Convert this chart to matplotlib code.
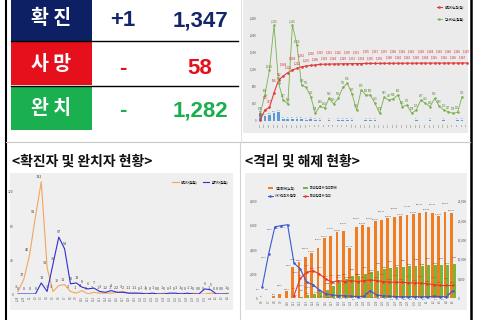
import numpy as np
import pandas as pd
import matplotlib
matplotlib.use('Agg')
import matplotlib.pyplot as plt
from matplotlib.patches import Rectangle

plt.rcParams['font.family'] = ['Noto Sans CJK KR', 'DejaVu Sans']
plt.rcParams['axes.unicode_minus'] = False
nan = np.nan

# ---------------- data ----------------
status_names = ['확 진', '사 망', '완 치']
status_change = ['+1', '-', '-']
status_total = ['1,347', '58', '1,282']

# top-right: cumulative confirmed / daily tests / daily new
tr_dates = [f'{d.month}.{d.day}' for d in pd.date_range('2020-02-19', periods=46)]
tr_cum_confirmed = [23, 255, 317, 658, 952, 1044, 1122, 1184, 1222, 1261, 1276, 1292, 1300, 1315,
                    1318, 1321, 1324, 1326, 1328, 1330, 1331, 1333, 1334, 1335, 1336, 1337, 1338,
                    1339, 1340, 1340, 1341, 1341, 1342, 1342, 1343, 1343, 1344, 1344, 1345, 1345,
                    1345, 1346, 1346, 1346, 1347, 1347]
tr_daily_tests = [178, 603, 1184, 2228, 874, 487, 395, 2228, 1764, 836, 781, 565, 178, 348, 294,
                  526, 395, 526, 781, 874, 627, 255, 720, 603, 603, 410, 178, 549, 487, 518, 603,
                  333, 371, 178, 255, 487, 410, 333, 526, 348, 255, 217, 178, 201, 565]
tr_daily_new = [178, 116, 139, 193, 217, 40, 45, 40, 35, 38, 30, 35, 30, 25, 0, 20, 0, 25, 25, 20,
                20, 0, 0, 15, 15, 15, 0, 0, 0, 0, 0, 0, 0, 0, 15, 0, 0, 15, 0, 0, 15, 0, 0, 15, 15, 0]
tr_yticks = [0, 400, 800, 1200, 1600, 2000, 2400]
tr_series_names = ['확진자누적(명)', '검사자수(일일)']

# bottom-left: daily confirmed / daily recovered
bl_dates = [f'{d.month}.{d.day}' for d in pd.date_range('2020-02-28', periods=37)]
bl_confirmed = [3, 17, 46, 91, 132, 31, 3, 10, 11, 3, 1, 4, 0, 2, 1, 1, 1, 2, 3, 1, 1, 0, 1, 0,
                0, 1, 0, 0, 1, 0, 1, 0, 0, 1, 0, 0, 1]
bl_recovered = [0, 0, 0, 0, 13, 3, 35, 67, 53, 12, 13, 8, 6, 7, 3, 2, 4, 2, 2, 1, 1, 1, 0, 1, 0,
                0, 1, 1, 0, 1, 0, 0, 6, 5, 0, 0, 0]
bl_yticks = [0, 40, 80, 120]
bl_series_names = ['확진자(일일)', '완치자(일일)']

# bottom-right: quarantine and release
br_dates = [f'{d.month}.{d.day}' for d in pd.date_range('2020-03-06', periods=31)]
br_released = [46, 123, 389, 1102, 1857, 7882, 9153, 10679, 11696, 12967, 15417, 15933, 16950,
               17204, 12776, 18306, 18899, 18306, 19747, 20171, 20594, 20849, 21188, 21442, 21696,
               22035, 22289, 22035, 21188, 22289, 22035]
br_released_overseas = [0, 0, 0, 0, 0, 120, 300, 650, 1100, 1525, 1950, 3220, 4068, 4915, 5593,
                        5763, 6187, 6610, 7034, 7458, 7627, 7881, 8051, 8136, 8305, 8305, 8475,
                        8475, 8475, 8475, 8644]
br_isolated = [895, 3603, 5868, 5966, 6047, 2900, 2380, 1300, 1100, 650, 350, 250, 200, 180, 150,
               120, 150, 600, 250, 180, 150, 120, 100, 100, 120, 100, 100, 150, 120, 100, 600]
br_isolated_overseas = [nan, nan, nan, nan, nan, 200, 1627, 2115, 2251, 1980, 1573, 1302, 1437,
                        1356, 1437, 1356, 1437, 1492, 1437, 1356, 1302, 1302, 1302, 1248, 1248,
                        1220, 1166, 1112, 1031, 1031, 1031]
br_left_ticks = [0, 2000, 4000, 6000, 8000]
br_right_ticks = [0, 5000, 10000, 15000, 20000, 25000]
br_series_names = ['격리해제(누적)', '자가격리자 현황', '해외입국자 격리해제', '해외입국자 격리']

# ---------------- layout ----------------
W, H = 480, 320
fig = plt.figure(figsize=(W / 100, H / 100), dpi=100)
fig.patch.set_facecolor('white')


def ax_px(x0, y0, x1, y1, z=1):
    a = fig.add_axes([x0 / W, 1 - y1 / H, (x1 - x0) / W, (y1 - y0) / H])
    a.set_zorder(z)
    a.patch.set_visible(False)
    return a


bg = ax_px(0, 0, W, H, z=0)
bg.set_xlim(0, W)
bg.set_ylim(H, 0)
bg.axis('off')

# chart panels
bg.add_patch(Rectangle((243, 0), 225, 133, color='#ebebeb', lw=0))
bg.add_patch(Rectangle((10, 173), 223, 137, color='#efefef', lw=0))
bg.add_patch(Rectangle((245, 173), 222, 137, color='#efefef', lw=0))

# frame / separators
bg.plot([5.5, 5.5], [0, 320], color='black', lw=1.5)
bg.plot([471, 471], [0, 320], color='black', lw=1.8)
bg.plot([6, 470], [141.5, 141.5], color='#c8c8c8', lw=0.8)
bg.plot([239.5, 239.5], [142, 320], color='#d2d2d2', lw=0.8)
bg.plot([240.5, 240.5], [0, 141], color='#dddddd', lw=0.6)

# status table
cell_colors = ['#0d2064', '#e5101c', '#1bb04f']
text_colors = ['#13256b', '#e5101c', '#1bae4e']
row_tops = [0, 42, 87]
row_bottoms = [40.5, 84.5, 130]
row_mid = [18, 65, 108]
row_base = [26.5, 73.5, 116.5]
num_font = ['Liberation Sans', 'DejaVu Sans']
for i in range(3):
    bg.add_patch(Rectangle((11, row_tops[i]), 81, row_bottoms[i] - row_tops[i],
                           color=cell_colors[i], lw=0))
    bg.text(51.5, row_mid[i], status_names[i], color='white', fontsize=14,
            fontweight='bold', ha='center', va='center')
    bg.text(123, row_base[i], status_change[i], color=text_colors[i], fontsize=16,
            fontweight='bold', family=num_font, ha='center', va='baseline')
    bg.text(200, row_base[i], status_total[i], color=text_colors[i], fontsize=16,
            fontweight='bold', family=num_font, ha='center', va='baseline')
bg.plot([11, 238], [41.3, 41.3], color='black', lw=1.0)
bg.plot([11, 238], [85.8, 85.8], color='black', lw=1.0)

# titles
bg.text(12, 161.5, '<확진자 및 완치자 현황>', fontsize=10, fontweight='bold',
        ha='left', va='center', color='#111111')
bg.text(245, 161.5, '<격리 및 해제 현황>', fontsize=10, fontweight='bold',
        ha='left', va='center', color='#111111')


def clean(a):
    for s in a.spines.values():
        s.set_visible(False)
    a.tick_params(length=0, colors='#555555')


# ---------------- top-right chart ----------------
ax1 = ax_px(258, 9, 469, 121, z=2)
x46 = np.arange(len(tr_cum_confirmed))
x45 = np.arange(len(tr_daily_tests))
ax1.bar(x46, tr_daily_new, width=0.6, color='#5b9bd5')
l_red, = ax1.plot(x46, tr_cum_confirmed, color='#e23b3b', lw=0.8, marker='o', ms=0.9)
l_grn, = ax1.plot(x45, tr_daily_tests, color='#7ab04c', lw=0.6, marker='o', ms=0.8)
ax1.set_xlim(-0.5, 45.5)
ax1.set_ylim(0, 2600)
ax1.set_yticks(tr_yticks)
ax1.set_yticklabels([f'{v:,}' for v in tr_yticks], fontsize=2)
ax1.set_xticks(x46)
ax1.set_xticklabels(tr_dates, fontsize=1.6, rotation=90)
clean(ax1)
ax1.tick_params(pad=1.2)
for i, v in enumerate(tr_cum_confirmed):
    ax1.annotate(f'{v:,}', (i, v), xytext=(0, 2.5 if i % 2 == 0 else 7),
                 textcoords='offset points', ha='center', va='bottom', fontsize=2,
                 color='#d42020')
for i, v in enumerate(tr_daily_tests):
    ax1.annotate(f'{v:,}', (i, v), xytext=(0, 1.5), textcoords='offset points',
                 ha='center', va='bottom', fontsize=1.9, color='#4f7f2a')
for i, v in enumerate(tr_daily_new):
    if v > 0:
        ax1.annotate(f'{v}', (i, v), xytext=(0, 0.8), textcoords='offset points',
                     ha='center', va='bottom', fontsize=1.6, color='#2f6db0')
ax1.legend([l_red, l_grn], tr_series_names, loc='upper right', bbox_to_anchor=(0.99, 1.06),
           fontsize=2.3, frameon=False, handlelength=1.6, labelspacing=2.6)

# ---------------- bottom-left chart ----------------
ax2 = ax_px(15, 175, 231, 294, z=2)
x37 = np.arange(len(bl_confirmed))
l_or, = ax2.plot(x37, bl_confirmed, color='#f2a65a', lw=0.8)
l_bl, = ax2.plot(x37, bl_recovered, color='#2f2fd6', lw=0.8)
ax2.set_xlim(-0.5, 36.5)
ax2.set_ylim(0, 140)
ax2.set_yticks(bl_yticks)
ax2.set_yticklabels([str(v) for v in bl_yticks], fontsize=2.4)
ax2.set_xticks(x37)
ax2.set_xticklabels(bl_dates, fontsize=1.8, rotation=90)
clean(ax2)
ax2.tick_params(pad=1.2)
for i, v in enumerate(bl_confirmed):
    ax2.annotate(f'{v}', (i, v), xytext=(-1.5, 2), textcoords='offset points',
                 ha='center', va='bottom', fontsize=2.7, color='#404040')
for i, v in enumerate(bl_recovered):
    ax2.annotate(f'{v}', (i, v), xytext=(0, 2), textcoords='offset points',
                 ha='center', va='bottom', fontsize=2.7, color='#404040')
ax2.legend([l_or, l_bl], bl_series_names, loc='upper right', bbox_to_anchor=(1.0, 0.98),
           ncol=2, fontsize=2.3, frameon=False, handlelength=2, columnspacing=1.5)

# ---------------- bottom-right chart ----------------
ax3 = ax_px(259, 201, 456, 298, z=2)
ax3r = ax3.twinx()
ax3r.patch.set_visible(False)
x31 = np.arange(len(br_released))
b_or = ax3.bar(x31 - 0.22, br_released, width=0.44, color='#f07d22')
b_gr = ax3.bar(x31 + 0.22, br_released_overseas, width=0.44, color='#74b83a')
ax3.set_xlim(-0.5, 30.5)
ax3.set_ylim(0, 25000)
ax3.set_yticks(br_right_ticks)
ax3.set_yticklabels([f'{v:,}' for v in br_right_ticks], fontsize=2.2)
ax3.yaxis.tick_right()
ax3.set_xticks(x31)
ax3.set_xticklabels(br_dates, fontsize=1.8, rotation=90)
l_b3, = ax3r.plot(x31, br_isolated, color='#3a5bd0', lw=0.8, marker='o', ms=0.8)
l_r3, = ax3r.plot(x31, br_isolated_overseas, color='#e8352b', lw=0.8, marker='o', ms=0.8)
ax3r.set_ylim(0, 8000)
ax3r.set_yticks(br_left_ticks)
ax3r.set_yticklabels([f'{v:,}' for v in br_left_ticks], fontsize=2.2)
ax3r.yaxis.tick_left()
clean(ax3)
clean(ax3r)
ax3.tick_params(pad=1.2)
ax3r.tick_params(pad=1.2)
for i, v in enumerate(br_released):
    ax3.annotate(f'{v:,}', (i - 0.22, v), xytext=(0, 0.8 if i % 2 == 0 else 5.5),
                 textcoords='offset points', ha='center', va='bottom', fontsize=1.7,
                 color='#333333')
for i, v in enumerate(br_released_overseas):
    if v > 0:
        ax3.annotate(f'{v:,}', (i + 0.22, v), xytext=(0, 0.8 if i % 2 == 1 else 4.5),
                     textcoords='offset points', ha='center', va='bottom', fontsize=1.5,
                     color='#333333')
for i, v in enumerate(br_isolated):
    ax3r.annotate(f'{v:,}', (i, v), xytext=(-1.5, -1.5), textcoords='offset points',
                  ha='right', va='top', fontsize=1.7, color='#2a46b8')
for i, v in enumerate(br_isolated_overseas):
    if not np.isnan(v):
        ax3r.annotate(f'{v:,.0f}', (i, v), xytext=(0, 1.5 if i % 2 == 0 else 4.5),
                      textcoords='offset points', ha='center', va='bottom', fontsize=1.7,
                      color='#d42020')
ax3r.legend([b_or, l_b3, b_gr, l_r3], br_series_names, loc='lower left',
            bbox_to_anchor=(0.03, 1.0), ncol=2, fontsize=2.3, frameon=False,
            handlelength=1.6, columnspacing=2.0, labelspacing=1.2)

fig.savefig('out.png', dpi=100, facecolor='white')
